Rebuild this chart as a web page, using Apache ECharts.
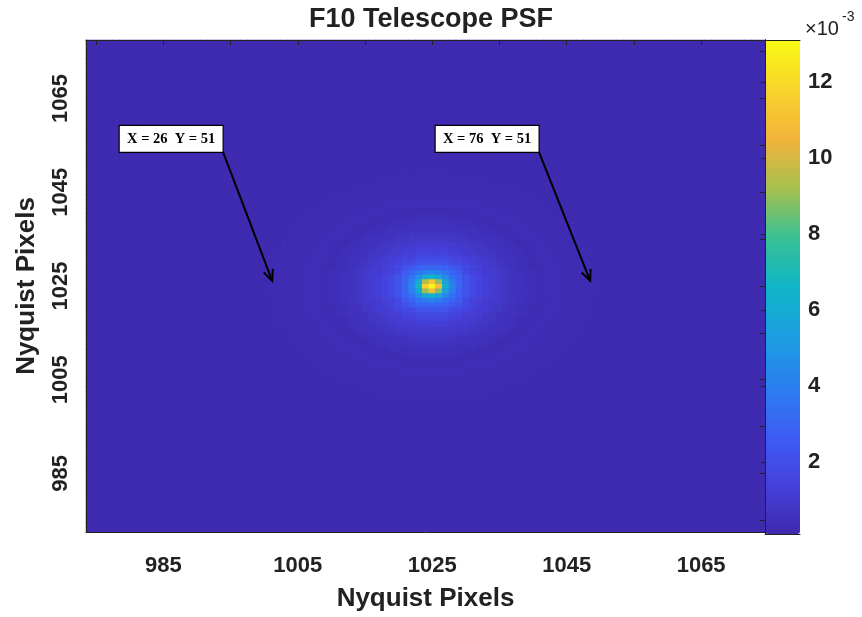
<!DOCTYPE html>
<html><head><meta charset="utf-8">
<script src="https://cdn.jsdelivr.net/npm/echarts@6/dist/echarts.min.js"></script>
<style>html,body{margin:0;padding:0;background:#fff}#c{width:862px;height:617px}</style>
</head><body><div id="c"></div>
<script>
// ---- data (values in units of 1e-3, as on the colour bar) ----
const xRange = [974, 1074];          // first / last pixel column
const yRange = [973, 1077];          // first / last pixel row
const xTickLabels = [985, 1005, 1025, 1045, 1065];
const yTickLabels = [985, 1005, 1025, 1045, 1065];
const colorbarTicks = [2, 4, 6, 8, 10, 12];
const colorRange = [0.1, 13.1];
const peakCenter = [1025, 1025];
// core of the PSF, rows from dy=+4 (top) to dy=-4 (bottom), cols dx=-4..+4
const coreGrid = [
  [2.1, 2.5, 2.8, 3.0, 3.1, 3.0, 2.8, 2.5, 2.1],
  [2.5, 3.0, 3.5, 4.0, 4.2, 4.0, 3.5, 3.0, 2.5],
  [2.8, 3.5, 4.6, 5.8, 6.5, 5.7, 4.5, 3.4, 2.8],
  [3.0, 4.0, 5.9, 9.3, 11.2, 8.9, 5.6, 3.9, 2.9],
  [3.1, 4.3, 6.8, 11.6, 12.9, 10.8, 6.4, 4.1, 3.0],
  [3.0, 4.0, 5.8, 9.0, 10.9, 8.7, 5.5, 3.9, 2.9],
  [2.8, 3.5, 4.5, 5.7, 6.3, 5.6, 4.4, 3.4, 2.7],
  [2.5, 3.0, 3.5, 3.9, 4.1, 3.9, 3.4, 2.9, 2.5],
  [2.1, 2.5, 2.8, 3.0, 3.0, 2.9, 2.7, 2.4, 2.1]
];
// halo levels read at radius 5, 6, 7 ... 24 pixels from the peak
const haloStartRadius = 5;
const haloLevels = [2.2, 1.8, 1.5, 1.25, 1.05, 0.9, 0.75, 0.62, 0.52, 0.42,
                    0.33, 0.24, 0.30, 0.32, 0.30, 0.25, 0.20, 0.23, 0.23, 0.20];
const backgroundLevel = 0.16;
const annotations = [
  { label: 'X = 26  Y = 51', corner: [993.9, 1053.5], tip: [1001.2, 1026.1] },
  { label: 'X = 76  Y = 51', corner: [1040.9, 1053.5], tip: [1048.5, 1026.1] }
];
const parula = ['#3e2aae', '#4641dc', '#3c5ef5', '#2a80ef', '#1c9ee0', '#10b5c7',
                '#38c193', '#a8c04e', '#f2b33a', '#f8d42c', '#f9fb14'];

// ---- build ----
const xCats = [], yCats = [];
for (let v = xRange[0]; v <= xRange[1]; v++) xCats.push(String(v));
for (let v = yRange[0]; v <= yRange[1]; v++) yCats.push(String(v));
const half = (coreGrid.length - 1) / 2;
const cells = [];
xCats.forEach((xs, i) => {
  yCats.forEach((ys, j) => {
    const dx = +xs - peakCenter[0], dy = +ys - peakCenter[1];
    let v;
    if (Math.abs(dx) <= half && Math.abs(dy) <= half) {
      v = coreGrid[half - dy][dx + half];
    } else {
      const k = Math.round(Math.sqrt(dx * dx + dy * dy)) - haloStartRadius;
      v = k < 0 ? haloLevels[0] : (k < haloLevels.length ? haloLevels[k] : backgroundLevel);
    }
    cells.push([i, j, v]);
  });
});

const FONT = 'Liberation Sans';
const INK = '#222';
const G = { left: 86, top: 40, width: 679, height: 494 };
const CB = { left: 765, top: 40, width: 35, height: 494 };

const boxAxis = (extra) => Object.assign({
  axisLine: { show: true, lineStyle: { color: INK, width: 1 } },
  axisTick: { show: false }, axisLabel: { show: false },
  splitLine: { show: false }, z: 10
}, extra);

const chart = echarts.init(document.getElementById('c'), null, { renderer: 'canvas' });
chart.setOption({
  animation: false,
  backgroundColor: '#fff',
  title: {
    text: 'F10 Telescope PSF', left: 'center', top: 1,
    textStyle: { fontFamily: FONT, fontSize: 27, fontWeight: 'bold', color: INK }
  },
  grid: [
    Object.assign({ show: true, backgroundColor: '#3e2aae', borderWidth: 0 }, G),
    Object.assign({}, CB)
  ],
  xAxis: [
    {
      type: 'category', data: xCats, gridIndex: 0, position: 'bottom',
      axisLine: { lineStyle: { color: INK } },
      axisTick: { inside: true, length: 5, alignWithLabel: true,
                  interval: (i, v) => (+v) % 10 === 5, lineStyle: { color: INK } },
      axisLabel: { interval: (i, v) => xTickLabels.includes(+v), fontFamily: FONT,
                   fontSize: 22, fontWeight: 'bold', color: INK, margin: 23 },
      name: 'Nyquist Pixels', nameLocation: 'middle', nameGap: 54,
      nameTextStyle: { fontFamily: FONT, fontSize: 26, fontWeight: 'bold', color: INK },
      splitLine: { show: false }, z: 10
    },
    boxAxis({ type: 'category', data: xCats, gridIndex: 0, position: 'top',
      axisTick: { show: true, inside: true, length: 5, alignWithLabel: true,
                  interval: (i, v) => (+v) % 10 === 5, lineStyle: { color: INK } } }),
    boxAxis({ type: 'value', gridIndex: 1, position: 'bottom', min: 0, max: 1 }),
    boxAxis({ type: 'value', gridIndex: 1, position: 'top', min: 0, max: 1 })
  ],
  yAxis: [
    {
      type: 'category', data: yCats, gridIndex: 0, position: 'left',
      axisLine: { lineStyle: { color: INK } },
      axisTick: { inside: true, length: 5, alignWithLabel: true,
                  interval: (i, v) => (+v) % 10 === 5, lineStyle: { color: INK } },
      axisLabel: { interval: (i, v) => yTickLabels.includes(+v), rotate: 90,
                   fontFamily: FONT, fontSize: 22, fontWeight: 'bold', color: INK, margin: 14 },
      name: 'Nyquist Pixels', nameLocation: 'middle', nameGap: 46, nameRotate: 90,
      nameTextStyle: { fontFamily: FONT, fontSize: 26, fontWeight: 'bold', color: INK },
      splitLine: { show: false }, z: 10
    },
    boxAxis({ type: 'category', data: yCats, gridIndex: 0, position: 'right',
      axisTick: { show: true, inside: true, length: 5, alignWithLabel: true,
                  interval: (i, v) => (+v) % 10 === 5, lineStyle: { color: INK } } }),
    {
      type: 'value', gridIndex: 1, position: 'right',
      min: colorRange[0], max: colorRange[1], splitNumber: 6,
      axisLine: { show: true, lineStyle: { color: INK } },
      axisTick: { show: true, inside: true, length: 4, lineStyle: { color: INK } },
      axisLabel: { show: true, showMinLabel: false, showMaxLabel: false,
                   formatter: v => colorbarTicks.includes(Math.round(v * 1000) / 1000) ? String(Math.round(v)) : '',
                   fontFamily: FONT, fontSize: 22, fontWeight: 'bold', color: INK, margin: 8 },
      splitLine: { show: false }, z: 10
    },
    boxAxis({ type: 'value', gridIndex: 1, position: 'left', min: 0, max: 1 })
  ],
  visualMap: {
    type: 'continuous', min: colorRange[0], max: colorRange[1], seriesIndex: 0,
    calculable: false, hoverLink: false, realtime: false,
    orient: 'vertical', left: CB.left, top: CB.top, padding: 0,
    itemWidth: CB.width, itemHeight: CB.height, text: null, showLabel: false,
    inRange: { color: parula }
  },
  series: [{
    type: 'heatmap', xAxisIndex: 0, yAxisIndex: 0, data: cells,
    progressive: 0, emphasis: { disabled: true }, silent: true,
    itemStyle: { borderWidth: 0 }
  }]
});

// ---- annotations (text arrows), positioned through the axes' scales ----
const f = { xAxisIndex: 0, yAxisIndex: 0 };
const p0 = chart.convertToPixel(f, [0, 0]);
const p1 = chart.convertToPixel(f, [1, 1]);
const toPx = (xv, yv) => [p0[0] + (xv - xRange[0]) * (p1[0] - p0[0]),
                          p0[1] + (yv - yRange[0]) * (p1[1] - p0[1])];
const graphics = [];
annotations.forEach(a => {
  const c = toPx(a.corner[0], a.corner[1]);
  const t = toPx(a.tip[0], a.tip[1]);
  const bw = 104, bh = 27;
  graphics.push({ type: 'rect', shape: { x: c[0] - bw, y: c[1] - bh, width: bw, height: bh },
    style: { fill: '#fff', stroke: '#000', lineWidth: 1.2 }, z: 100 });
  graphics.push({ type: 'text', x: c[0] - bw / 2, y: c[1] - bh / 2,
    style: { text: a.label, fill: '#000', font: 'bold 14.5px "Liberation Serif"',
             textAlign: 'center', textVerticalAlign: 'middle' }, z: 101 });
  graphics.push({ type: 'line', shape: { x1: c[0], y1: c[1], x2: t[0], y2: t[1] },
    style: { stroke: '#000', lineWidth: 2 }, z: 100 });
  const ang = Math.atan2(t[1] - c[1], t[0] - c[0]);
  const L = 12, spread = 0.42;
  graphics.push({ type: 'polyline', shape: { points: [
      [t[0] - L * Math.cos(ang - spread), t[1] - L * Math.sin(ang - spread)],
      [t[0], t[1]],
      [t[0] - L * Math.cos(ang + spread), t[1] - L * Math.sin(ang + spread)]] },
    style: { stroke: '#000', lineWidth: 2, fill: null }, z: 100 });
});
// colour-bar exponent label
graphics.push({ type: 'text', x: CB.left + 40, y: CB.top - 11,
  style: { text: '×10', fill: INK, font: '20px "Liberation Sans"', textVerticalAlign: 'middle' } });
graphics.push({ type: 'text', x: CB.left + 77, y: CB.top - 23,
  style: { text: '-3', fill: INK, font: '14px "Liberation Sans"', textVerticalAlign: 'middle' } });
chart.setOption({ graphic: graphics });
</script>
</body></html>
